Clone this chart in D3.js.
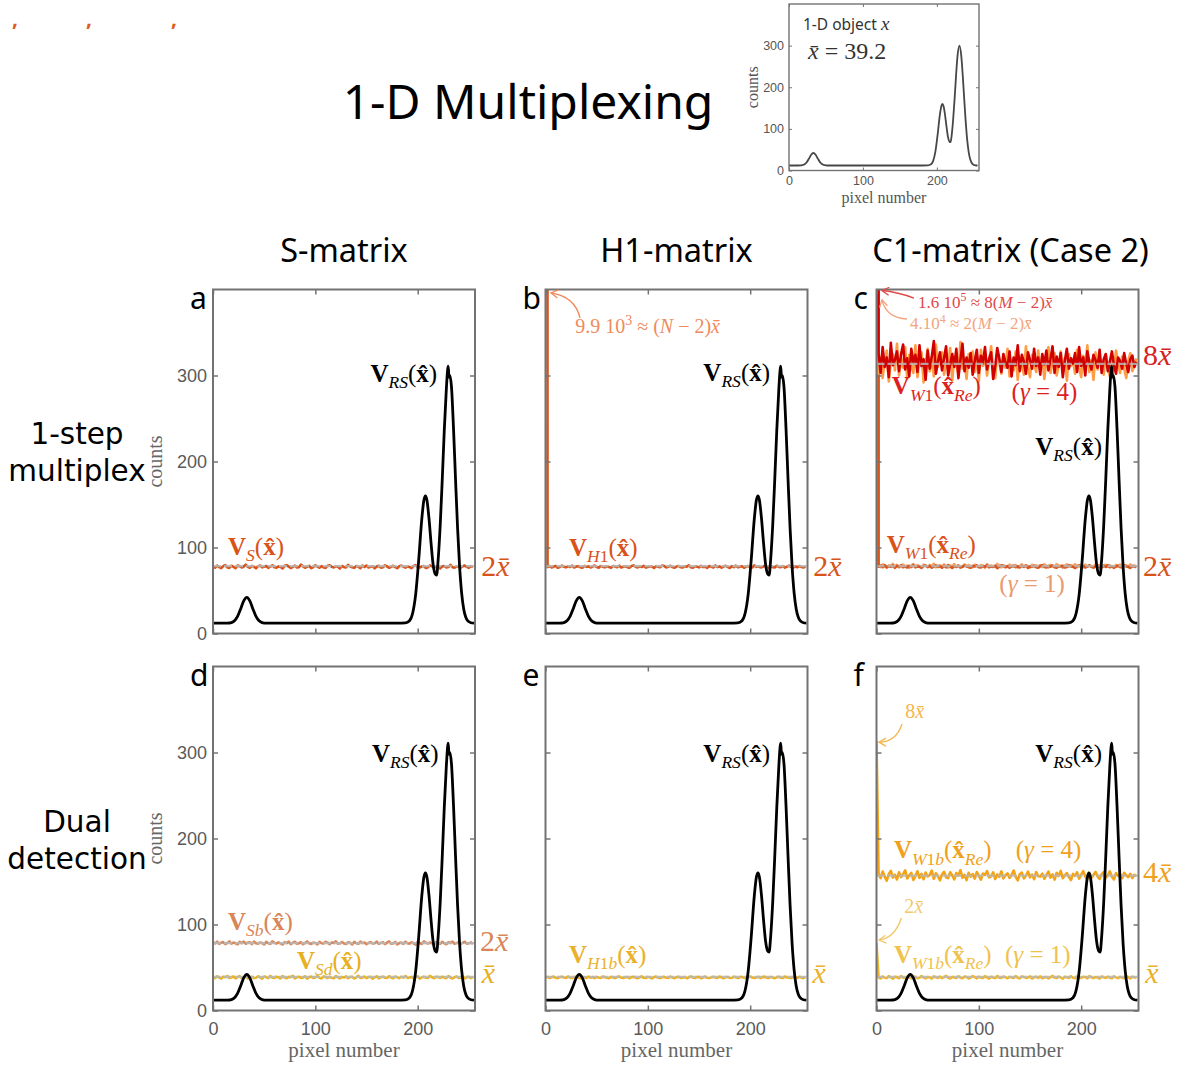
<!DOCTYPE html>
<html><head><meta charset="utf-8">
<script src="https://cdn.jsdelivr.net/npm/d3@7"></script>
<style>body{margin:0;background:#fff}</style>
</head><body>
<svg id="fig" width="1186" height="1073"></svg>
<script>
// ---------------- DATA ----------------
const xTicks = [0, 100, 200];
const yTicks = [0, 100, 200, 300];
const xbar = 39.2;

// reconstructed object V_RS(x^) (black curve)
const rsPixels = [0,6,12,16,18,21,24,27,30,33,36,39,42,45,48,52,60,80,100,120,140,160,180,188,192,195,198,201,204,206,207.5,209,211,213,215,217,218.5,220,222,224,226,228,229.2,229.8,230.6,231.4,233,235,237,239,241,243,245,247,249,252,255];
const rsCounts = [12,12,12,12.2,12.7,14.8,19.9,28.5,37.9,42,37.9,28.5,19.9,14.8,12.7,12,12,12,12,12,12,12,12,12.3,14.8,23.2,45.3,85.6,132.9,154.6,160,155.1,134.4,106,80.9,69.5,68,86,125.6,178.8,236.6,284.3,306,311,298,300,287,238.5,178.8,122,77,46.4,28.2,18.8,14.6,12.5,12];

// inset: 1-D object x
const objPixels = [0,6,12,16,18,21,24,27,30,33,36,39,42,45,48,52,60,100,140,180,188,192,195,198,201,204,206,207.5,209,211,213,215,217,218.5,220,222,224,226,228,230.5,233,235,237,239,241,243,245,247,249,252,255];
const objCounts = [12,12,12,12.2,12.7,14.8,19.9,28.5,37.9,42,37.9,28.5,19.9,14.8,12.7,12,12,12,12,12,12.3,14.8,23.2,45.3,85.6,132.9,154.6,160,155.1,134.4,106,80.9,69.5,68,84,122,172,229,276,300,276,229,172,118,74,45,27.6,18.6,14.5,12.5,12];

// noisy reconstructions, one value every 2 pixels
const noisePixels = d3.range(0, 256, 2);

const vS_a = [77.8,76.5,78.9,77.2,75.9,78.4,79.6,77.0,76.2,78.8,77.5,76.0,79.1,78.2,76.8,77.9,
80.1,77.4,76.3,78.6,77.7,75.8,78.3,79.0,76.9,77.6,78.5,76.4,77.9,79.3,77.1,76.6,
78.0,77.3,75.7,78.7,79.5,77.8,76.1,77.4,78.9,76.7,77.2,80.0,78.1,76.4,77.7,78.6,
75.9,77.3,79.2,77.9,76.5,78.3,77.0,76.2,78.8,79.4,77.5,76.8,78.1,77.6,75.6,78.5,
77.2,76.9,79.7,78.0,77.1,76.3,78.4,77.8,76.0,78.9,77.4,79.1,76.7,77.5,78.2,75.8,
77.9,78.7,76.6,77.0,79.3,78.1,76.4,77.6,78.8,77.2,75.9,78.3,79.0,77.7,76.5,78.0,
77.3,76.1,78.6,79.5,77.4,76.8,77.9,78.4,76.2,77.1,79.2,78.0,76.7,77.6,78.9,75.7,
77.8,78.5,76.9,77.3,79.8,77.0,76.4,78.2,77.7,76.6,78.1,79.0,77.5,76.3,78.4,77.2];

const vH1_b = [9900,77.2,78.4,76.8,77.9,78.6,76.5,77.3,78.9,77.6,76.9,78.1,77.4,79.0,76.7,77.8,
78.3,77.1,76.4,78.7,77.5,78.0,76.8,77.9,79.1,77.2,76.6,78.4,77.7,76.9,78.2,77.4,
76.3,78.5,77.8,77.0,78.9,76.7,77.5,78.2,77.1,76.5,78.6,79.2,77.6,76.8,78.0,77.3,
78.7,76.6,77.4,78.1,77.9,76.2,78.3,77.7,77.0,79.0,78.4,76.9,77.5,78.8,77.2,76.4,
77.9,78.5,77.1,76.7,78.2,77.6,79.3,77.0,76.5,78.1,77.8,76.9,78.6,77.3,77.7,76.3,
78.4,77.5,76.8,79.1,77.2,78.0,76.6,77.9,78.7,77.4,76.2,78.3,77.1,78.9,76.9,77.6,
78.2,76.4,77.8,78.5,77.0,76.7,79.2,77.5,78.1,76.8,77.3,78.6,77.9,76.5,78.0,77.2,
76.9,78.8,77.4,77.1,78.3,76.6,77.7,79.0,77.6,76.4,78.2,77.0,78.5,77.3,76.8,77.9];

const vW1g4_c = [160000,326,303,333,310,321,298,338,312,318,328,305,325,336,307,320,
299,331,315,324,304,335,311,319,295,329,308,322,340,302,316,327,
306,320,334,300,313,325,310,331,297,318,337,305,321,309,326,301,
317,330,303,323,314,333,307,319,327,296,311,332,320,304,325,315,
309,328,299,321,312,335,305,324,316,302,327,318,308,331,311,321,
301,325,313,329,306,319,334,303,322,310,326,298,317,331,308,320,
314,326,304,333,311,321,300,328,315,307,324,318,309,330,303,319,
325,305,316,328,312,302,321,317,308,326,313,304,319,323,310,316];

const vW1g4Light_c = [160000,302,321,297,317,329,293,316,325,306,337,300,320,309,333,296,
324,311,303,335,298,319,327,292,314,331,305,321,299,336,310,317,
327,301,315,307,332,294,322,312,302,339,308,318,296,325,313,328,
304,320,293,330,311,323,300,316,334,307,297,326,314,302,322,309,
331,299,318,306,328,295,321,313,301,334,310,298,324,315,304,329,
308,322,296,319,333,303,315,326,300,312,328,306,320,294,325,311,
317,302,330,309,298,323,314,335,304,318,295,327,307,321,312,301,
324,310,299,319,306,329,315,303,322,308,297,317,326,305,313,320];

const vW1g1_c = [40000,77.6,78.9,77.1,79.4,76.8,78.2,77.5,79.0,76.4,78.6,77.8,79.3,77.0,78.1,76.7,
78.8,77.3,79.5,76.9,78.0,77.7,76.3,78.5,79.1,77.2,78.4,76.6,77.9,79.2,77.4,78.3,
76.5,78.7,77.0,79.6,77.8,76.2,78.1,77.5,78.9,76.8,77.6,79.0,78.2,77.1,76.4,78.6,
77.9,79.3,77.3,76.7,78.4,77.6,79.1,76.9,78.0,77.4,78.8,76.1,77.7,79.4,78.3,77.0,
78.5,76.6,77.9,79.0,77.2,78.1,76.8,78.7,77.5,79.2,76.3,78.0,77.8,78.9,77.1,76.5,
78.2,79.5,77.4,76.9,78.6,77.7,79.1,77.0,76.4,78.3,77.9,78.8,76.7,77.3,79.3,78.0,
77.6,76.2,78.4,79.0,77.1,78.5,76.8,77.8,79.2,77.5,76.6,78.1,78.9,77.2,76.9,78.6,
77.4,79.4,77.0,78.2,76.5,77.9,78.7,77.3,76.8,79.1,78.0,77.6,76.3,78.4,77.8,77.1];

const vW1g1Light_c = [40000,79.8,77.2,80.5,78.0,76.6,79.3,78.7,81.0,77.5,79.9,76.9,78.4,80.2,77.8,79.1,
76.4,78.9,80.7,77.6,79.5,78.1,76.8,80.0,78.6,77.3,79.7,78.2,81.2,77.0,78.8,79.4,
77.7,80.3,78.5,76.5,79.0,78.3,80.8,77.4,79.2,76.7,78.0,80.4,77.9,79.6,78.6,77.1,
80.1,78.4,77.0,79.8,78.9,76.3,80.6,77.8,79.1,78.2,77.5,80.9,78.7,76.9,79.4,78.0,
77.3,80.2,78.8,77.6,79.7,76.6,78.3,80.5,77.9,79.0,78.5,76.8,80.0,77.4,79.3,78.1,
79.6,77.2,80.4,78.6,76.7,79.9,78.0,77.5,80.8,78.4,79.1,76.4,78.9,80.3,77.7,79.5,
78.2,80.6,77.1,79.2,78.7,76.9,80.1,77.8,79.4,78.3,77.0,80.7,78.6,79.8,77.3,78.9,
80.0,77.6,79.3,78.1,76.5,79.7,78.4,80.2,77.9,78.8,79.5,77.2,80.4,78.0,79.1,77.7];

const vSb_d = [79.2,78.0,80.1,77.4,78.8,79.6,77.1,78.5,80.3,77.8,79.0,78.2,76.9,79.7,78.4,80.0,
77.6,78.9,79.4,77.3,80.2,78.1,77.7,79.1,78.6,76.8,79.8,78.3,77.5,80.4,78.7,77.9,
79.3,78.0,76.7,79.5,78.4,80.1,77.2,78.8,79.9,77.6,78.2,79.4,77.0,78.6,80.3,78.1,
77.4,79.0,78.5,76.9,79.7,78.3,77.8,80.0,78.9,77.1,79.2,78.4,80.5,77.7,78.1,79.6,
78.0,77.3,79.4,78.7,76.8,79.9,78.2,77.6,80.2,78.5,79.1,77.0,78.8,79.5,77.9,78.3,
80.1,77.5,78.6,79.3,77.2,78.9,80.4,77.8,78.0,79.7,76.9,78.4,79.0,77.4,80.0,78.2,
77.7,79.4,78.1,76.6,79.8,78.5,77.3,80.3,78.7,77.9,79.1,78.0,76.8,79.6,78.3,77.5,
79.9,78.2,77.0,79.3,78.6,80.1,77.6,78.4,79.5,77.2,78.8,80.0,77.8,78.1,79.2,77.4];

const vSd_d = [38.9,37.6,39.8,38.2,37.1,39.4,38.6,40.1,37.8,38.3,39.6,37.4,38.8,39.9,37.9,38.5,
40.0,37.3,38.7,39.2,37.7,38.1,39.7,38.4,37.0,39.5,38.9,37.5,40.2,38.0,37.8,39.3,
38.6,37.2,39.9,38.3,37.6,39.1,38.8,40.3,37.4,38.5,39.4,37.9,38.2,39.8,37.1,38.7,
39.5,37.7,38.4,40.0,38.1,37.3,39.6,38.9,37.8,39.2,38.0,37.5,40.1,38.6,37.4,39.0,
38.3,39.7,37.6,38.8,39.3,37.2,38.5,40.2,37.9,38.1,39.5,37.7,38.9,39.1,37.0,38.4,
39.8,37.5,38.6,39.4,38.0,37.8,40.0,38.3,37.3,39.6,38.7,37.6,39.2,38.2,40.1,37.9,
38.5,39.0,37.4,38.8,39.7,37.1,38.4,39.3,38.0,37.7,40.3,38.6,37.5,39.1,38.9,37.8,
39.4,38.1,37.6,39.9,38.3,37.2,38.7,39.5,37.9,38.2,40.0,37.4,38.8,39.2,37.7,38.5];

const vH1b_e = [38.2,39.1,37.8,38.7,39.4,38.0,37.6,38.9,39.2,38.4,37.9,39.6,38.1,37.7,38.8,39.3,
38.5,37.4,39.0,38.6,37.9,39.5,38.2,38.8,37.6,39.1,38.3,37.8,39.4,38.7,38.0,37.5,
39.2,38.4,37.7,38.9,39.6,38.1,37.9,38.6,39.0,37.5,38.8,39.3,38.2,37.6,38.5,39.7,
38.0,37.8,39.1,38.4,37.4,38.9,39.5,38.2,37.7,38.7,39.2,38.0,37.9,39.4,38.3,37.6,
38.8,39.3,37.9,38.1,39.0,37.5,38.6,39.6,38.3,37.8,38.9,39.1,37.6,38.4,39.5,38.0,
37.7,38.5,39.2,38.2,37.9,39.4,38.7,37.5,38.8,39.0,38.1,37.8,39.3,38.6,37.6,38.9,
39.1,38.0,37.7,38.7,39.5,38.3,37.9,38.5,39.2,37.6,38.8,39.4,38.2,37.8,39.0,38.4,
37.5,38.9,39.3,38.1,37.8,39.6,38.4,38.0,37.7,39.1,38.6,37.9,39.2,38.3,37.6,38.8];

const vW1bg4_f = [313.6,159.2,153.8,161.5,156.0,150.9,158.7,162.4,154.6,157.9,152.3,160.8,155.1,158.4,163.0,153.5,
157.2,160.1,151.8,156.6,161.9,154.2,158.9,152.7,160.4,155.8,157.5,162.6,153.1,159.6,156.3,151.4,
158.1,161.3,155.0,153.9,160.7,157.0,152.5,159.9,156.8,163.2,154.4,157.7,151.6,160.2,155.6,158.6,
153.3,161.0,156.9,152.1,159.3,157.8,162.1,154.8,156.1,160.6,152.9,158.2,155.4,161.7,153.6,157.3,
159.5,154.1,157.6,162.8,155.3,151.2,158.5,160.3,153.7,156.7,161.4,154.9,158.0,152.6,160.9,156.2,
155.7,159.1,153.2,157.4,161.6,154.5,158.3,152.2,160.0,156.4,162.3,153.9,157.1,159.8,155.2,151.7,
158.8,156.5,160.5,153.4,157.9,162.0,155.9,152.8,159.4,154.3,157.6,161.2,156.0,153.0,158.6,160.7,
154.7,157.0,161.8,155.5,152.4,159.7,156.6,158.1,153.8,160.2,157.3,155.0,159.0,154.0,157.8,156.1];

const vW1bg1_f = [78.4,38.6,37.2,39.5,38.1,37.7,39.9,38.4,37.0,39.2,38.8,37.5,40.0,38.2,37.8,39.3,
38.5,37.3,39.7,38.9,37.6,38.0,40.1,38.3,37.4,39.0,38.7,37.1,39.6,38.6,37.9,39.4,
37.7,38.8,40.2,38.0,37.3,39.1,38.5,37.8,39.8,38.2,37.5,39.4,38.9,37.2,38.4,40.0,
38.7,37.4,39.3,38.1,37.9,39.9,38.6,37.1,39.2,38.3,37.6,40.1,38.0,37.8,39.5,38.8,
37.5,39.1,38.4,37.7,40.0,38.2,37.3,39.6,38.9,37.9,38.5,39.8,37.2,38.6,39.3,38.0,
39.7,37.6,38.3,39.0,37.4,38.8,40.2,38.1,37.7,39.4,38.5,37.0,39.1,38.7,37.9,39.9,
38.2,37.5,39.6,38.4,37.8,39.2,38.9,37.3,40.0,38.6,37.6,39.0,38.3,37.1,39.5,38.7,
37.9,39.3,38.0,37.4,39.8,38.5,37.7,39.1,38.2,37.6,40.1,38.8,37.3,39.4,38.4,38.0];

// reference levels (multiples of x-bar) per panel
const refsA = [78.4], refsB = [78.4], refsC = [313.6, 78.4], refsD = [78.4, 39.2], refsE = [39.2], refsF = [156.8, 39.2];

// ---------------- DRAWING ----------------
const SERIF = "'Liberation Serif','DejaVu Serif',serif";
const SANS = "'Noto Sans','Open Sans',sans-serif";
const TICKF = "'Liberation Sans',Arial,sans-serif";
const svg = d3.select("#fig");
const defs = svg.append("defs");

function mtext(g, x, y, parts, opt) {
  const t = g.append("text").attr("x", x).attr("y", y)
    .attr("font-family", SERIF).attr("font-size", opt.size).attr("fill", opt.color)
    .attr("text-anchor", opt.anchor || "start");
  let shift = 0;
  parts.forEach(p => {
    const ts = t.append("tspan").text(p.t);
    ts.attr("font-size", opt.size * (p.sub || p.sup ? 0.7 : 1));
    if (p.b) ts.attr("font-weight", "bold");
    if (p.i) ts.attr("font-style", "italic");
    const target = p.sub ? opt.size * 0.25 : p.sup ? -opt.size * 0.4 : 0;
    if (target !== shift) { ts.attr("dy", target - shift); shift = target; }
  });
  return t;
}
let mk = 0;
function arrowMarker(color) {
  const id = "arr" + (mk++);
  defs.append("marker").attr("id", id).attr("viewBox", "-10 -6 12 12")
    .attr("refX", 0).attr("refY", 0).attr("markerWidth", 12).attr("markerHeight", 12)
    .attr("markerUnits", "userSpaceOnUse").attr("orient", "auto")
    .append("path").attr("d", "M-7,-4 L0,0 L-7,4").attr("fill", "none")
    .attr("stroke", color).attr("stroke-width", 1.3);
  return `url(#${id})`;
}

const hx = "x\u0302", bx = "x\u0304";
const VRS = [{t:"V",b:1},{t:"RS",i:1,sub:1},{t:"("},{t:hx,b:1},{t:")"}];
const Vsub = (subs, re) => [{t:"V",b:1}, ...subs.map(s => ({t:s.t, i:s.i, sub:1})), {t:"("},{t:hx,b:1}, ...(re ? [{t:"Re",i:1,sub:1}] : []), {t:")"}];
const mult = k => [{t:k},{t:bx,i:1}];
const gam = k => [{t:"("},{t:"\u03b3",i:1},{t:" = "+k+")"}];

const colX0 = [213, 545.5, 876.5], colW = 262;
const rowY0 = [289.5, 666.5], rowH = 344;
const FRAME = "#737373";

const panels = [
 {letter:"a", col:0, row:0, refs:refsA, series:[{v:vS_a, c:"#d95319"}]},
 {letter:"b", col:1, row:0, refs:refsB, series:[{v:vH1_b, c:"#d95319"}]},
 {letter:"c", col:2, row:0, refs:refsC, series:[{v:vW1g1Light_c, c:"#f6a36b"},{v:vW1g1_c, c:"#d95319"},{v:vW1g4Light_c, c:"#ff9d45"},{v:vW1g4_c, c:"#d10000"}]},
 {letter:"d", col:0, row:1, refs:refsD, series:[{v:vSb_d, c:"#d98b5f"},{v:vSd_d, c:"#e8b425"}]},
 {letter:"e", col:1, row:1, refs:refsE, series:[{v:vH1b_e, c:"#edb120"}]},
 {letter:"f", col:2, row:1, refs:refsF, series:[{v:vW1bg4_f, c:"#f5a313"},{v:vW1bg1_f, c:"#eeb62e"}]},
];

panels.forEach((P, k) => {
  const x0 = colX0[P.col], y0 = rowY0[P.row];
  const x = d3.scaleLinear().domain([0, 256]).range([x0, x0 + colW]);
  const y = d3.scaleLinear().domain([0, 400]).range([y0 + rowH, y0]);
  P.x = x; P.y = y;
  const g = svg.append("g");
  const cid = "clip" + k;
  defs.append("clipPath").attr("id", cid).append("rect")
    .attr("x", x0).attr("y", y0).attr("width", colW).attr("height", rowH);
  const pg = g.append("g").attr("clip-path", `url(#${cid})`);
  const line = d3.line().x(d => x(d[0])).y(d => y(d[1]));
  P.series.forEach(s => {
    pg.append("path").datum(s.v.map((v, i) => [noisePixels[i], v]))
      .attr("d", line).attr("fill", "none").attr("stroke", s.c)
      .attr("stroke-width", 2.6).attr("stroke-linejoin", "round");
  });
  P.refs.forEach(r => {
    pg.append("path").datum([[0, r], [256, r]]).attr("d", line)
      .attr("stroke", "#b9b9b9").attr("stroke-width", 2.2).attr("stroke-dasharray", "8,3")
      .attr("opacity", 0.85);
  });
  pg.append("path").datum(rsPixels.map((p, i) => [p, rsCounts[i]]))
    .attr("d", d3.line().x(d => x(d[0])).y(d => y(d[1])).curve(d3.curveMonotoneX))
    .attr("fill", "none").attr("stroke", "#000").attr("stroke-width", 2.8);

  // axes (inside ticks, MATLAB box)
  const showY = P.col === 0, showX = P.row === 1;
  const styleAx = a => {
    a.select(".domain").remove();
    a.selectAll(".tick line").attr("stroke", FRAME).attr("stroke-width", 1.5);
    a.selectAll(".tick text").attr("fill", "#5a5a5a").attr("font-family", TICKF).attr("font-size", 18);
  };
  g.append("g").attr("transform", `translate(0,${y0 + rowH})`)
    .call(d3.axisBottom(x).tickValues(xTicks).tickSize(-5).tickPadding(12).tickFormat(showX ? d3.format("d") : () => "")).call(styleAx);
  g.append("g").attr("transform", `translate(0,${y0})`)
    .call(d3.axisTop(x).tickValues(xTicks).tickSize(-5).tickFormat(() => "")).call(styleAx);
  g.append("g").attr("transform", `translate(${x0},0)`)
    .call(d3.axisLeft(y).tickValues(yTicks).tickSize(-5).tickPadding(6).tickFormat(showY ? d3.format("d") : () => "")).call(styleAx);
  g.append("g").attr("transform", `translate(${x0 + colW},0)`)
    .call(d3.axisRight(y).tickValues(yTicks).tickSize(-5).tickFormat(() => "")).call(styleAx);
  g.append("rect").attr("x", x0).attr("y", y0).attr("width", colW).attr("height", rowH)
    .attr("fill", "none").attr("stroke", FRAME).attr("stroke-width", 2);

  // panel letter
  svg.append("text").attr("x", x0 - 23).attr("y", y0 + 19.5).attr("font-family", SANS)
    .attr("font-size", 30).text(P.letter);
  if (showY) {
    svg.append("text").attr("transform", `translate(${x0 - 51},${y0 + rowH / 2}) rotate(-90)`)
      .attr("text-anchor", "middle").attr("font-family", SERIF).attr("font-size", 20)
      .attr("fill", "#666").text("counts");
  }
  if (showX) {
    svg.append("text").attr("x", x0 + colW / 2).attr("y", y0 + rowH + 46)
      .attr("text-anchor", "middle").attr("font-family", SERIF).attr("font-size", 21)
      .attr("fill", "#666").text("pixel number");
  }
  // V_RS label (all panels)
  const rsLab = [[219, 293], [219.4, 294], [220.3, 207.5], [220.5, 289], [219.4, 289], [220.3, 289]][k];
  mtext(svg, x(rsLab[0]), y(rsLab[1]), VRS, {size: 25, color: "#000", anchor: "end"});
});

// panel-specific labels
const [A, B, C, D, E, F] = panels;
const L = (P, px, c, parts, size, color, anchor) => mtext(svg, P.x(px), P.y(c), parts, {size, color, anchor});

L(A, 14.7, 91, Vsub([{t:"S",i:1}]), 25, "#d95319");
L(A, 262, 67, mult("2"), 30, "#d95319");

L(B, 23, 90, Vsub([{t:"H",i:1},{t:"1"}]), 25, "#d95319");
L(B, 261.5, 67, mult("2"), 30, "#d95319");
L(B, 29, 350, [{t:"9.9 10"},{t:"3",sup:1},{t:" \u2248 ("},{t:"N",i:1},{t:" \u2212 2)"},{t:bx,i:1}], 20, "#ef8a5c");

L(C, 260.5, 312, mult("8"), 30, "#d81e1e");
L(C, 15, 278, Vsub([{t:"W",i:1},{t:"1"}], true), 25, "#de1f1f");
L(C, 132, 272, gam("4"), 25, "#de1f1f");
L(C, 10, 93.5, Vsub([{t:"W",i:1},{t:"1"}], true), 25, "#d95319");
L(C, 120, 48, gam("1"), 25, "#ea9a70");
L(C, 260.5, 67, mult("2"), 30, "#d95319");
L(C, 40.5, 379, [{t:"1.6 10"},{t:"5",sup:1},{t:" \u2248 8("},{t:"M",i:1},{t:" \u2212 2)"},{t:bx,i:1}], 17, "#e04848");
L(C, 32.7, 353.5, [{t:"4.10"},{t:"4",sup:1},{t:" \u2248 2("},{t:"M",i:1},{t:" \u2212 2)"},{t:bx,i:1}], 17, "#f3a47c");

L(D, 14.7, 93.5, Vsub([{t:"Sb",i:1}]), 25, "#d88658");
L(D, 261, 69, mult("2"), 30, "#d88658");
L(D, 82, 48, Vsub([{t:"Sd",i:1}]), 25, "#e6b01e");
L(D, 262.5, 32, [{t:bx,i:1}], 30, "#e6b01e");

L(E, 23, 55, Vsub([{t:"H",i:1},{t:"1"},{t:"b",i:1}]), 25, "#eab12a");
L(E, 261, 32, [{t:bx,i:1}], 30, "#eab12a");

L(F, 17, 177, Vsub([{t:"W",i:1},{t:"1"},{t:"b",i:1}], true), 25, "#f0a11c");
L(F, 136, 177, gam("4"), 25, "#f0a11c");
L(F, 260.5, 149.5, mult("4"), 30, "#f0a11c");
L(F, 17, 55, Vsub([{t:"W",i:1},{t:"1"},{t:"b",i:1}], true), 25, "#f0c24e");
L(F, 125.5, 55, gam("1"), 25, "#f0c24e");
L(F, 262.5, 32, [{t:bx,i:1}], 30, "#eab12a");
L(F, 28, 340, mult("8"), 20, "#f5b54a");
L(F, 27, 113, mult("2"), 20, "#f2c96b");

// annotation arrows (data coordinates)
function arrow(P, s, c, e, color) {
  const p = d3.path();
  p.moveTo(P.x(s[0]), P.y(s[1]));
  p.quadraticCurveTo(P.x(c[0]), P.y(c[1]), P.x(e[0]), P.y(e[1]));
  svg.append("path").attr("d", p.toString()).attr("fill", "none").attr("stroke", color)
    .attr("stroke-width", 1.4).attr("marker-end", arrowMarker(color));
}
arrow(B, [33.7, 367], [28.8, 392], [5.4, 396], "#ef8a5c");
arrow(C, [36.6, 390], [21, 397], [5.4, 398.8], "#e04848");
arrow(C, [29.8, 365.7], [9.3, 367], [5.4, 388], "#f3a47c");
arrow(F, [24.9, 333], [19, 312], [2.4, 312], "#f5b54a");
arrow(F, [24.3, 107.6], [18.1, 84.3], [2.4, 82], "#f2c96b");

// titles
svg.append("text").attr("x", 528).attr("y", 119).attr("text-anchor", "middle")
  .attr("font-family", SANS).attr("font-size", 48).text("1-D Multiplexing");
const colTitles = ["S-matrix", "H1-matrix", "C1-matrix (Case 2)"];
colTitles.forEach((t, i) => svg.append("text").attr("x", colX0[i] + colW / 2 + (i === 2 ? 3 : 0)).attr("y", 262)
  .attr("text-anchor", "middle").attr("font-family", SANS).attr("font-size", 32.5).text(t));
const rowTitles = [["1-step", "multiplex"], ["Dual", "detection"]];
rowTitles.forEach((lines, r) => lines.forEach((s, j) => svg.append("text").attr("x", 77)
  .attr("y", [444, 832][r] + j * 37).attr("text-anchor", "middle")
  .attr("font-family", "'DejaVu Sans',sans-serif").attr("font-size", 29.5).text(s)));

// stray commas top-left
[12, 86, 171].forEach(cx => svg.append("text").attr("x", cx).attr("y", 26)
  .attr("font-family", SANS).attr("font-size", 21).attr("font-weight", "bold")
  .attr("fill", "#e05a1e").text(","));

// ---------------- INSET ----------------
{
  const ix0 = 789, ix1 = 979, iy0 = 4, iy1 = 170.5;
  const x = d3.scaleLinear().domain([0, 257]).range([ix0, ix1]);
  const y = d3.scaleLinear().domain([0, 400]).range([iy1, iy0]);
  const g = svg.append("g");
  g.append("path").datum(objPixels.map((p, i) => [p, objCounts[i]]))
    .attr("d", d3.line().x(d => x(d[0])).y(d => y(d[1])).curve(d3.curveMonotoneX))
    .attr("fill", "none").attr("stroke", "#474747").attr("stroke-width", 1.8);
  const st = a => {
    a.select(".domain").remove();
    a.selectAll(".tick line").attr("stroke", FRAME);
    a.selectAll(".tick text").attr("fill", "#555").attr("font-family", TICKF).attr("font-size", 12.5);
  };
  g.append("g").attr("transform", `translate(0,${iy1})`).call(d3.axisBottom(x).tickValues(xTicks).tickSize(-3).tickPadding(6)).call(st);
  g.append("g").attr("transform", `translate(0,${iy0})`).call(d3.axisTop(x).tickValues(xTicks).tickSize(-3).tickFormat(() => "")).call(st);
  g.append("g").attr("transform", `translate(${ix0},0)`).call(d3.axisLeft(y).tickValues(yTicks).tickSize(-3).tickPadding(5)).call(st);
  g.append("g").attr("transform", `translate(${ix1},0)`).call(d3.axisRight(y).tickValues(yTicks).tickSize(-3).tickFormat(() => "")).call(st);
  g.append("rect").attr("x", ix0).attr("y", iy0).attr("width", ix1 - ix0).attr("height", iy1 - iy0)
    .attr("fill", "none").attr("stroke", FRAME).attr("stroke-width", 1.4);
  const t1 = g.append("text").attr("x", 803).attr("y", 30).attr("font-family", SANS).attr("font-size", 15.5).attr("fill", "#333");
  t1.append("tspan").text("1-D object ");
  t1.append("tspan").attr("font-family", SERIF).attr("font-style", "italic").attr("font-size", 19).text("x");
  mtext(g, 808, 59, [{t:bx,i:1},{t:" = 39.2"}], {size: 24, color: "#333"});
  g.append("text").attr("transform", `translate(758,${(iy0 + iy1) / 2}) rotate(-90)`).attr("text-anchor", "middle")
    .attr("font-family", SERIF).attr("font-size", 16).attr("fill", "#555").text("counts");
  g.append("text").attr("x", 884).attr("y", 203).attr("text-anchor", "middle")
    .attr("font-family", SERIF).attr("font-size", 16).attr("fill", "#555").text("pixel number");
}
</script>
</body></html>
